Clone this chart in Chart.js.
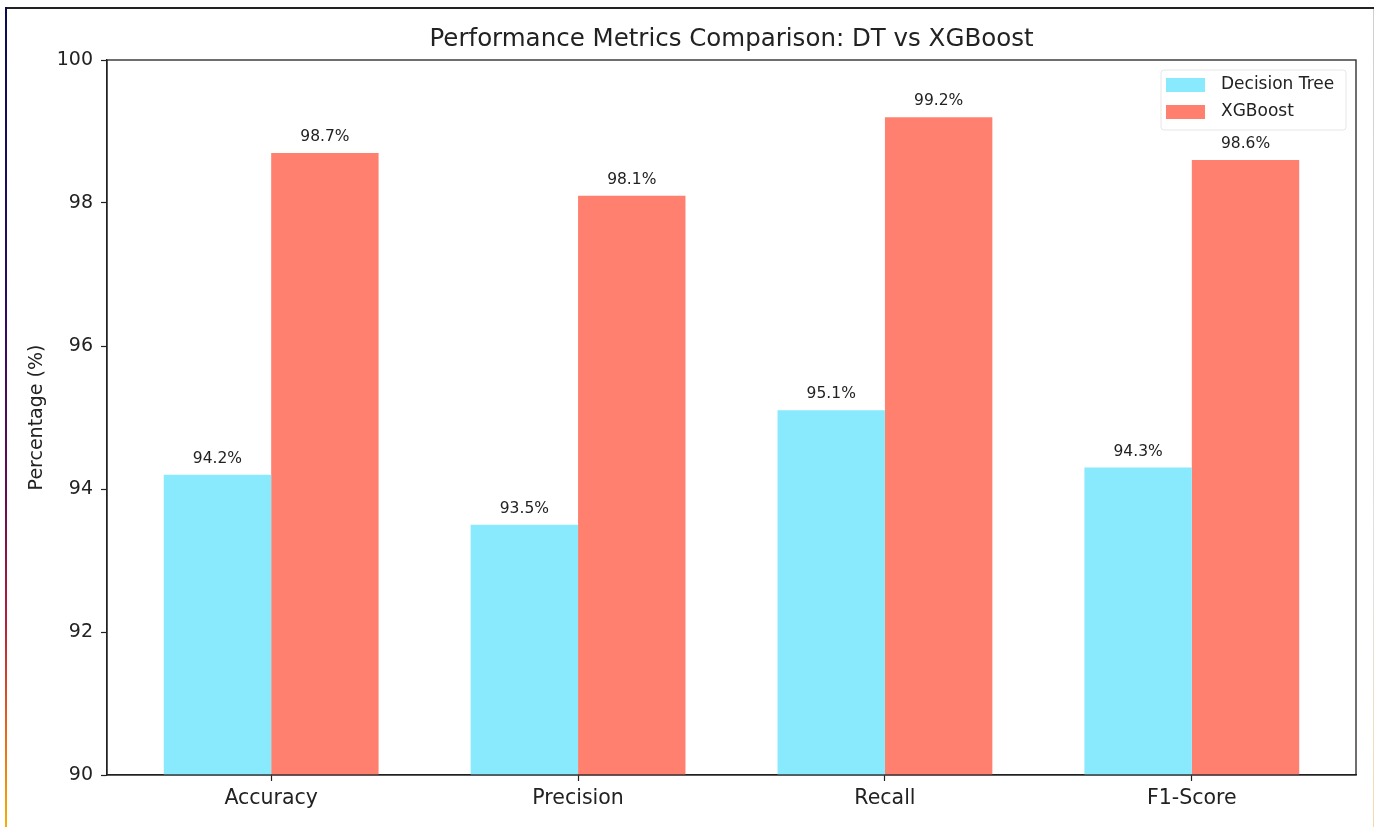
<!DOCTYPE html>
<html>
<head>
<meta charset="utf-8">
<script src="https://cdn.jsdelivr.net/npm/chart.js@4.4.1/dist/chart.umd.min.js"></script>
<style>
  html, body { margin: 0; padding: 0; background: #fff; }
  #wrap { position: relative; width: 1376px; height: 827px; overflow: hidden; }
  #frameTop { position: absolute; left: 6px; top: 7px; width: 1368px; height: 2px; background: #222; }
  #frameLeft { position: absolute; left: 5px; top: 7px; width: 2px; height: 820px;
    background: linear-gradient(#0b0b55 0%, #2a0a66 35%, #6a0a50 60%, #b81e3a 75%, #e8641a 88%, #f6b000 100%); }
  #frameRight { position: absolute; left: 1373px; top: 9px; width: 1px; height: 818px;
    background: linear-gradient(#cfcfcf 0%, #e0e0e0 70%, #f7d9b0 100%); }
  #box { position: absolute; left: 0; top: 0; width: 1376px; height: 827px; }
</style>
</head>
<body>
<div id="wrap">
  <div id="box"><canvas id="chart"></canvas></div>
  <div id="frameTop"></div>
  <div id="frameLeft"></div>
  <div id="frameRight"></div>
</div>
<script>
const categories = ['Accuracy', 'Precision', 'Recall', 'F1-Score'];
const dtValues = [94.2, 93.5, 95.1, 94.3];
const xgbValues = [98.7, 98.1, 99.2, 98.6];
const yTicks = [90, 92, 94, 96, 98, 100];

const FONT = "'DejaVu Sans', sans-serif";
const cyan = '#89E9FD';
const salmon = '#FF806E';

const toPoints = vals => vals.map((v, i) => ({ x: i, y: v }));

// value labels above each bar + box around plot + legend
const extras = {
  id: 'extras',
  afterDatasetsDraw(chart) {
    const ctx = chart.ctx;
    ctx.save();
    ctx.font = '15.5px ' + FONT;
    ctx.fillStyle = '#222';
    ctx.textAlign = 'center';
    ctx.textBaseline = 'middle';
    chart.data.datasets.forEach((ds, di) => {
      chart.getDatasetMeta(di).data.forEach((bar, i) => {
        ctx.fillText(ds.data[i].y.toFixed(1) + '%', bar.x, bar.y - 16);
      });
    });
    ctx.restore();
  },
  afterDraw(chart) {
    const ctx = chart.ctx;
    const a = chart.chartArea;
    ctx.save();
    ctx.strokeStyle = '#222';
    ctx.lineWidth = 1.3;
    ctx.strokeRect(a.left, a.top, a.right - a.left, a.bottom - a.top);

    // legend
    const lx = a.right - 195, ly = a.top + 10, lw = 185, lh = 60;
    ctx.fillStyle = 'rgba(255,255,255,0.85)';
    ctx.strokeStyle = '#e6e6e6';
    ctx.lineWidth = 1;
    ctx.beginPath();
    ctx.roundRect(lx, ly, lw, lh, 3);
    ctx.fill();
    ctx.stroke();
    ctx.font = '17px ' + FONT;
    ctx.textAlign = 'left';
    ctx.textBaseline = 'middle';
    chart.data.datasets.forEach((ds, di) => {
      const cy = ly + 15 + di * 27;
      ctx.fillStyle = ds.backgroundColor;
      ctx.fillRect(lx + 5, cy - 7, 39, 14);
      ctx.fillStyle = '#222';
      ctx.fillText(ds.label, lx + 60, cy);
    });
    ctx.restore();
  }
};

new Chart(document.getElementById('chart'), {
  type: 'bar',
  data: {
    datasets: [
      { label: 'Decision Tree', data: toPoints(dtValues), backgroundColor: cyan },
      { label: 'XGBoost', data: toPoints(xgbValues), backgroundColor: salmon }
    ]
  },
  options: {
    responsive: true,
    maintainAspectRatio: false,
    animation: false,
    layout: { padding: { left: 0, right: 20, top: 0, bottom: 0 } },
    datasets: { bar: { categoryPercentage: 0.7, barPercentage: 1.0, borderWidth: 0 } },
    plugins: {
      legend: { display: false },
      tooltip: { enabled: false },
      title: {
        display: true,
        fullSize: false,
        text: 'Performance Metrics Comparison: DT vs XGBoost',
        color: '#222',
        font: { family: FONT, size: 24.5, weight: 'normal' },
        padding: { top: 25, bottom: 5.6 }
      }
    },
    scales: {
      x: {
        type: 'linear',
        offset: false,
        min: -0.535,
        max: 3.535,
        afterBuildTicks: s => { s.ticks = categories.map((c, i) => ({ value: i })); },
        afterFit: s => { s.height = 52; },
        ticks: {
          callback: v => categories[v],
          color: '#222',
          font: { family: FONT, size: 20.5 },
          padding: 5
        },
        grid: { offset: false, drawOnChartArea: false, tickLength: 6, color: '#222', tickWidth: 1.2 },
        border: { color: '#222', width: 1.3 }
      },
      y: {
        min: 90,
        max: 100,
        afterBuildTicks: s => { s.ticks = yTicks.map(v => ({ value: v })); },
        afterFit: s => { s.width = 107; },
        ticks: {
          color: '#222',
          font: { family: FONT, size: 19 },
          padding: 8
        },
        grid: { drawOnChartArea: false, tickLength: 6, color: '#222', tickWidth: 1.2 },
        border: { color: '#222', width: 1.3 },
        title: {
          display: true,
          text: 'Percentage (%)',
          color: '#222',
          font: { family: FONT, size: 19 },
          padding: { top: 26, bottom: 0 }
        }
      }
    }
  },
  plugins: [extras]
});
</script>
</body>
</html>
